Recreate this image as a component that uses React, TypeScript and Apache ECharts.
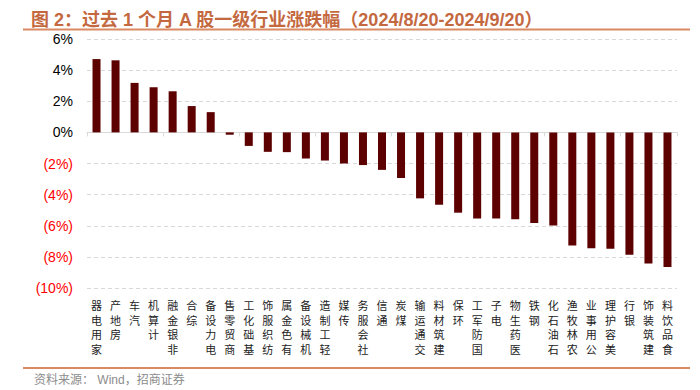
import React, { useEffect, useRef } from "react";
import * as echarts from "echarts";

const categories = [
  "家用电器", "房地产", "汽车", "计算机", "非银金融", "综合", "电力设备", "商贸零售",
  "基础化工", "纺织服饰", "有色金属", "机械设备", "轻工制造", "传媒", "社会服务", "通信",
  "煤炭", "交通运输", "建筑材料", "环保", "国防军工", "电子", "医药生物", "钢铁",
  "石油石化", "农林牧渔", "公用事业", "美容护理", "银行", "建筑装饰", "食品饮料",
];
const changes = [
  4.71, 4.63, 3.18, 2.9, 2.64, 1.69, 1.3, -0.15,
  -0.87, -1.25, -1.27, -1.68, -1.81, -2.0, -2.1, -2.41,
  -2.93, -4.24, -4.65, -5.16, -5.53, -5.53, -5.59, -5.83,
  -5.98, -7.27, -7.44, -7.48, -7.87, -8.43, -8.65,
];
const yMin = -10;
const yMax = 6;
const yStep = 2;

const titleText = "图 2：过去 1 个月 A 股一级行业涨跌幅（2024/8/20-2024/9/20）";
const sourceText = "资料来源： Wind，招商证券";

export default function App() {
  const ref = useRef<HTMLDivElement>(null);
  useEffect(() => {
    if (!ref.current) return;
    const chart = echarts.init(ref.current, null, { renderer: "svg" });
    chart.setOption({
      animation: false,
      backgroundColor: "#ffffff",
      title: {
        text: titleText,
        left: 26,
        top: 6,
        textStyle: {
          fontSize: 18,
          fontWeight: "bold",
          color: "#c4693f",
          fontFamily: "Liberation Sans, Noto Sans CJK SC",
        },
      },
      graphic: [
        {
          type: "line",
          shape: { x1: 23, y1: 29.5, x2: 690, y2: 29.5 },
          style: { stroke: "#d98a62", lineWidth: 2 },
        },
        {
          type: "line",
          shape: { x1: 23, y1: 368, x2: 690, y2: 368 },
          style: { stroke: "#d98a62", lineWidth: 2 },
        },
        {
          type: "text",
          x: 34,
          y: 380,
          style: {
            text: sourceText,
            fill: "#8c8c8c",
            fontSize: 12,
            fontFamily: "Liberation Sans, Noto Sans CJK SC",
            verticalAlign: "middle",
          },
        },
      ],
      grid: { left: 87, right: 23, top: 39, bottom: 102, containLabel: false },
      xAxis: [
        {
          type: "category",
          data: categories,
          position: "bottom",
          axisLine: { onZero: true, lineStyle: { color: "#d9d9d9", width: 1 } },
          axisTick: { show: true, length: 4, lineStyle: { color: "#d9d9d9" } },
          axisLabel: { show: false },
          splitLine: { show: false },
        },
        {
          type: "category",
          data: categories,
          position: "bottom",
          axisLine: { show: false, onZero: false },
          axisTick: { show: false },
          splitLine: { show: false },
          axisLabel: {
            interval: 0,
            margin: 10,
            fontSize: 11,
            lineHeight: 14.5,
            color: "#222222",
            fontFamily: "Noto Sans CJK SC",
            verticalAlign: "top",
            formatter: (v: string) => v.split("").reverse().join("\n"),
          },
        },
      ],
      yAxis: {
        type: "value",
        min: yMin,
        max: yMax,
        interval: yStep,
        axisLine: { show: false },
        axisTick: { show: false },
        splitLine: {
          show: true,
          lineStyle: { color: "#d9d9d9", type: [4, 3], width: 1 },
        },
        axisLabel: {
          margin: 14,
          fontSize: 14,
          fontFamily: "Liberation Sans, Arial",
          formatter: (v: number) =>
            v < 0 ? "{neg|(" + -v + "%)}" : "{pos|" + v + "%}",
          rich: {
            neg: { color: "#ff0000", fontSize: 14, fontFamily: "Liberation Sans, Arial" },
            pos: { color: "#000000", fontSize: 14, fontFamily: "Liberation Sans, Arial" },
          },
        },
      },
      series: [
        {
          type: "bar",
          xAxisIndex: 0,
          data: changes,
          barWidth: 8,
          itemStyle: { color: "#5c0000" },
        },
      ],
    });
    return () => chart.dispose();
  }, []);
  return <div ref={ref} style={{ width: 700, height: 390, position: "absolute", left: 0, top: 0 }} />;
}
